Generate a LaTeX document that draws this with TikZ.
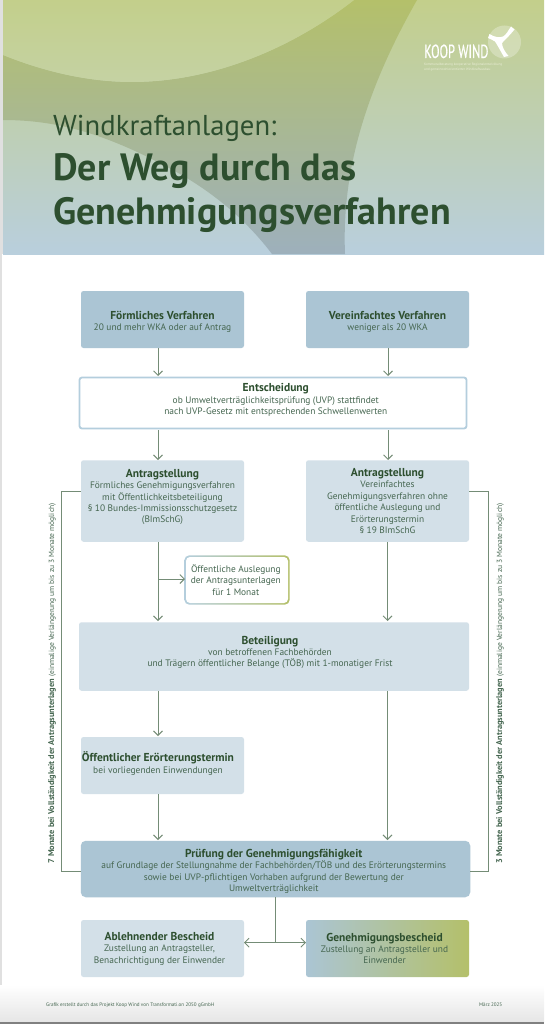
\documentclass[tikz,border=0pt]{standalone}
\usepackage{fontspec}
\setmainfont{PT Sans}
\usetikzlibrary{arrows.meta}
\definecolor{txtdark}{HTML}{2D4F2F}
\definecolor{txtmid}{HTML}{456650}
\definecolor{boxdark}{HTML}{ABC5D4}
\definecolor{boxlight}{HTML}{D3E0E8}
\definecolor{boxline}{HTML}{B4CEDD}
\definecolor{conn}{HTML}{748C76}
\definecolor{hgreen}{HTML}{C3CF8B}
\definecolor{hblue}{HTML}{B9CFDD}
\definecolor{hmid}{HTML}{B2C59B}
\definecolor{hlime}{HTML}{B4C06A}
\tikzset{
  flow/.style={rounded corners=2.5pt,minimum width=#1,inner sep=0pt,align=center,text=txtmid,font=\fontsize{9.4}{11.4}\selectfont},
  flow/.default=163pt,
  dark/.style={fill=boxdark},
  light/.style={fill=boxlight},
  con/.style={draw=conn,line width=0.9pt},
  arr/.style={con,-{Straight Barb[length=4.5pt,width=9pt,line width=0.9pt]}},
  side/.style={rotate=90,font=\fontsize{7.5}{9}\selectfont,text=txtmid},
}
\newcommand{\hd}[1]{{\fontsize{11.5}{11.4}\selectfont\bfseries\color{txtdark}#1}}
\newcommand{\dn}[1]{\rule{0pt}{#1}}
\newcommand{\sh}[1]{\hspace*{#1}}
\newcommand{\sidebf}[1]{{\fontsize{8.35}{9}\selectfont\bfseries #1}}
\begin{document}
\begin{tikzpicture}[x=1pt,y=-1pt]
\useasboundingbox (0,0) rectangle (544,1024);
\fill[white] (0,0) rectangle (544,1024);
\fill[black!12] (0,0) rectangle (3,254);
\fill[black!12] (0,254) rectangle (2,1022);
% header
\begin{scope}
\clip (3,0) rectangle (544,254);
\shade[top color=hgreen,bottom color=hblue] (3,0) rectangle (544,254);
% darker wedge between shapes
\shade[top color=hlime,middle color=hmid!95!black,bottom color=hblue!85!black] (3,120) .. controls (60,120) and (110,135) .. (180,174) .. controls (220,197) and (250,225) .. (272,254) -- (345,254) .. controls (342,180) and (360,100) .. (417,0) -- (354,0) .. controls (290,50) and (210,82) .. (132,82) .. controls (85,82) and (40,70) .. (3,55) -- cycle;
% top ellipse
\shade[top color=hgreen,bottom color=hmid!50!hgreen!85!white] (3,0) -- (354,0) .. controls (290,50) and (210,82) .. (132,82) .. controls (85,82) and (40,70) .. (3,55) -- cycle;
\end{scope}
\node[anchor=base west,inner sep=0pt,text=txtdark,font=\fontsize{28.7}{30}\selectfont] (t1) at (53,136) {Windkraftanlagen:};
\node[anchor=base west,inner sep=0pt,text=txtdark,font=\fontsize{38}{42}\selectfont\bfseries] (t2) at (53,180.5) {Der Weg durch das};
\node[anchor=base west,inner sep=0pt,text=txtdark,font=\fontsize{38}{42}\selectfont\bfseries] (t3) at (53,224.5) {Genehmigungsverfahren};
% logo
\fill[white,opacity=.28] (504.5,42) circle (16.5);
\fill[white] (489.5,34) .. controls (494,37) and (499,38) .. (503,36.5) .. controls (506,35) and (508,31) .. (511,26.5)
  -- (514.5,29.5) .. controls (510,35) and (505,40) .. (502,43) .. controls (502,47) and (505,52) .. (508.5,56)
  -- (504,57) .. controls (501,52) and (498,46) .. (495,41.5) .. controls (493,40) and (490,39) .. (488,38) -- cycle;
\node[anchor=base west,inner sep=0pt,text=white,font=\fontsize{19}{20}\selectfont] (logo) at (424,58) {\addfontfeature{FakeStretch=.65,FakeBold=0.5}KOOP WIND};
\node[anchor=north west,inner sep=0pt,align=left,text=white!65!hgreen,font=\fontsize{3.4}{5}\selectfont] (logosub) at (424,63) {Kommunalberatung kooperative Regionalentwicklung\\und gemeinwohlorientierter Windkraftausbau};
% boxes
\node[flow,dark,minimum height=57pt] (a) at (162.5,319.5) {\dn{13pt}\hd{Förmliches Verfahren}\\20 und mehr WKA oder auf Antrag};
\node[flow,dark,minimum height=57pt] (b) at (387.5,319.5) {\dn{13pt}\hd{Vereinfachtes Verfahren}\\weniger als 20 WKA};
\node[flow=387pt,fill=white,draw=boxline,line width=1.8pt,minimum height=51pt] (c) at (273,403) {\sh{5.6pt}\hd{Entscheidung}\\\sh{5.6pt}ob Umweltverträglichkeitsprüfung (UVP) stattfindet\\\sh{5.6pt}nach UVP-Gesetz mit entsprechenden Schwellenwerten\\[-4pt]\mbox{}};
\node[flow,light,minimum height=81.5pt] (d) at (162.5,501) {\hd{Antragstellung}\\Förmliches Genehmigungsverfahren\\mit Öffentlichkeitsbeteiligung\\§ 10 Bundes-Immissionsschutzgesetz\\(BImSchG)\\[-1.4pt]\mbox{}};
\node[flow,light,minimum height=81.5pt] (e) at (387.5,501) {\hd{Antragstellung}\\Vereinfachtes\\Genehmigungsverfahren ohne\\öffentliche Auslegung und\\Erörterungstermin\\§ 19 BImSchG};
\shade[left color=boxline,right color=hlime,rounded corners=5pt] (184.3,555.3) rectangle (289.7,604.7);
\node[flow=102pt,fill=white,rounded corners=4pt,minimum height=46pt] (f) at (237,580) {\sh{-2.4pt}Öffentliche Auslegung\\\sh{-2.4pt}der Antragsunterlagen\\\sh{-2.4pt}für 1 Monat};
\node[flow=390pt,light,minimum height=68.5pt] (g) at (274,656.5) {\sh{-8pt}\hd{Beteiligung}\\\sh{-8pt}von betroffenen Fachbehörden\\\sh{-8pt}und Trägern öffentlicher Belange (TÖB) mit 1-monatiger Frist\\[-1.4pt]\mbox{}};
\node[flow,light,minimum height=57pt] (h) at (162.5,765.5) {\sh{-9pt}\hd{Öffentlicher Erörterungstermin}\\\sh{-9pt}bei vorliegenden Einwendungen\\[-5.4pt]\mbox{}};
\node[flow=389.5pt,dark,rounded corners=5pt,minimum height=56.5pt] (i) at (275.5,869) {\sh{-3.4pt}\dn{13pt}\hd{Prüfung der Genehmigungsfähigkeit}\\\sh{-3.4pt}auf Grundlage der Stellungnahme der Fachbehörden/TÖB und des Erörterungstermins\\\sh{-3.4pt}sowie bei UVP-pflichtigen Vorhaben aufgrund der Bewertung der\\\sh{-3.4pt}Umweltverträglichkeit};
\node[flow,light,minimum height=57pt] (j) at (162.5,948.5) {\sh{-6pt}\hd{Ablehnender Bescheid}\\\sh{-6pt}Zustellung an Antragsteller,\\\sh{-6pt}Benachrichtigung der Einwender};
\shade[left color=boxdark,right color=hlime,rounded corners=2.5pt] (306,920) rectangle (469,977);
\node[flow,minimum height=57pt] (k) at (387.5,948.5) {\sh{-6pt}\hd{Genehmigungsbescheid}\\\sh{-6pt}Zustellung an Antragsteller und\\\sh{-6pt}Einwender};
% connectors
\draw[arr] (158,348) -- (158,376);
\draw[arr] (388,348) -- (388,376);
\draw[arr] (158,430) -- (158,460);
\draw[arr] (388,430) -- (388,460);
\draw[arr] (158,542) -- (158,621);
\draw[arr] (387.5,542) -- (387.5,621);
\coordinate (fw) at (158,579);
\draw[arr] (fw) -- (185,579);
\draw[arr] (158,691) -- (158,736);
\draw[arr] (158,794) -- (158,840);
\draw[arr] (387.5,691) -- (387.5,840);
\coordinate (fork) at (275.7,942.7);
\draw[con] (i.south -| fork) -- (fork);
\draw[arr] (fork) -- (244,942.7);
\draw[arr] (fork) -- (306,942.7);
% brackets
\draw[con] (d.west |- 0,491) -- (61,491) -- (61,871) -- (i.west |- 0,871);
\draw[con] (e.east |- 0,491) -- (488.7,491) -- (488.7,871) -- (i.east |- 0,871);
\node[side,anchor=west,inner sep=0pt] (s1) at (52,864) {\sidebf{7 Monate bei Vollständigkeit der Antragsunterlagen} (einmalige Verlängerung um bis zu 3 Monate möglich)};
\node[side,anchor=west,inner sep=0pt] (s2) at (500,864) {\sidebf{3 Monate bei Vollständigkeit der Antragsunterlagen} (einmalige Verlängerung um bis zu 3 Monate möglich)};
% footer
\shade[top color=white,bottom color=black!10] (0,985) rectangle (544,1022);
\fill[black!50] (0,1022) rectangle (544,1024);
\node[anchor=west,inner sep=0pt,text=txtmid,font=\fontsize{5.1}{6}\selectfont] (foot1) at (46,1005) {Grafik erstellt durch das Projekt Koop Wind von Transformati.on 2050 gGmbH};
\node[anchor=west,inner sep=0pt,text=txtmid,font=\fontsize{5.1}{6}\selectfont] (foot2) at (479,1005) {März 2025};
\end{tikzpicture}
\end{document}
